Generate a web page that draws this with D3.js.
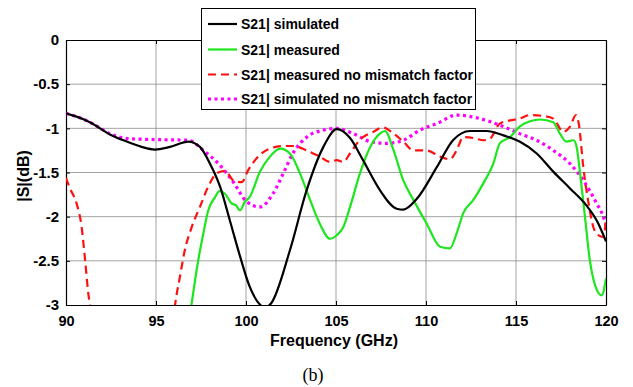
<!DOCTYPE html>
<html>
<head>
<meta charset="utf-8">
<script src="https://cdn.jsdelivr.net/npm/d3@7"></script>
<style>
  body { margin: 0; background: #fff; }
  svg text { font-family: "Liberation Sans", Arial, sans-serif; }
</style>
</head>
<body>
<svg id="chart" width="633" height="387"></svg>
<script>
// ---- data ----
const xTicks = [90, 95, 100, 105, 110, 115, 120];
const yTicks = [0, -0.5, -1, -1.5, -2, -2.5, -3];

const simFreq = [90, 91, 91.5, 92.44, 93.37, 94.2, 94.94, 95.78, 96.8, 97.44, 98, 98.56, 99.1, 99.67, 100.2, 100.8, 101.05, 101.4, 102.44, 103.37, 104.3, 105.04, 105.78, 106.5, 107.44, 108.37, 108.74, 109.48, 110.6, 111.5, 112.44, 113.37, 114.3, 115.2, 116.15, 117.07, 118, 118.9, 119.5, 120];
const simVal  = [-0.83, -0.9, -0.95, -1.07, -1.15, -1.21, -1.24, -1.21, -1.15, -1.21, -1.4, -1.66, -2.04, -2.45, -2.79, -3.0, -3.03, -2.98, -2.38, -1.7, -1.21, -1.01, -1.11, -1.36, -1.7, -1.91, -1.92, -1.8, -1.44, -1.135, -1.03, -1.03, -1.08, -1.15, -1.285, -1.49, -1.68, -1.87, -2.05, -2.28];

const measFreq = [96.9, 97.35, 97.63, 97.9, 98.28, 98.52, 98.83, 99.2, 99.44, 99.67, 99.94, 100.2, 100.78, 101.33, 101.9, 102.44, 103, 103.56, 104.1, 104.67, 105.04, 105.4, 105.78, 106.33, 106.9, 107.44, 107.72, 108.2, 108.74, 109.3, 110.04, 110.78, 111.33, 111.7, 112.07, 112.63, 113.19, 113.74, 114.1, 114.67, 115.2, 115.78, 116.33, 117.07, 117.44, 117.8, 118.2, 118.37, 118.56, 118.83, 119.1, 119.4, 119.76, 120];
const measVal  = [-3.1, -2.49, -2.19, -1.93, -1.78, -1.71, -1.74, -1.85, -1.87, -1.93, -1.83, -1.78, -1.49, -1.32, -1.23, -1.285, -1.51, -1.81, -2.08, -2.25, -2.21, -2.12, -1.89, -1.51, -1.21, -1.06, -1.03, -1.25, -1.59, -1.81, -2.08, -2.34, -2.36, -2.19, -1.96, -1.81, -1.62, -1.4, -1.17, -1.1, -0.98, -0.92, -0.9, -0.93, -1.06, -1.15, -1.135, -1.21, -1.51, -2.0, -2.49, -2.78, -2.89, -2.7];

const measNmFreq = [90, 90.22, 90.59, 90.87, 91.06, 91.24, 91.33, 91.5, 95.9, 96.06, 96.33, 96.6, 96.98, 97.44, 97.9, 98.37, 98.83, 99.3, 99.76, 100.13, 100.78, 101.33, 102.07, 102.6, 103.37, 104.1, 104.67, 105.04, 105.4, 105.78, 106.3, 107.07, 107.6, 108.2, 108.74, 109.3, 110.04, 110.78, 111.33, 111.7, 112.07, 112.63, 113.2, 113.56, 114.1, 114.67, 115.2, 115.78, 116.5, 117.07, 117.63, 118, 118.33, 118.5, 118.74, 119, 119.3, 119.57, 119.85, 120];
const measNmVal  = [-1.56, -1.68, -1.85, -2.12, -2.49, -2.87, -3.0, -3.3, -3.3, -3.0, -2.68, -2.38, -2.12, -1.89, -1.66, -1.51, -1.48, -1.59, -1.61, -1.47, -1.3, -1.23, -1.2, -1.2, -1.25, -1.32, -1.38, -1.36, -1.38, -1.285, -1.135, -1.04, -0.99, -1.06, -1.15, -1.25, -1.25, -1.32, -1.35, -1.25, -1.1, -1.11, -1.135, -1.115, -0.946, -0.91, -0.89, -0.85, -0.86, -0.89, -1.04, -0.98, -0.85, -0.965, -1.44, -1.81, -2.12, -2.21, -2.23, -2.04];

const simNmFreq = [90, 91, 91.5, 92.44, 93.37, 94.94, 96.8, 97.63, 98.56, 99.3, 100.04, 100.78, 101.5, 102.07, 102.6, 103.37, 104.3, 105.04, 105.96, 106.9, 107.8, 108.74, 109.67, 110.6, 111.7, 113, 114.3, 115.2, 116.15, 117.07, 118, 118.74, 119.48, 119.85, 120];
const simNmVal  = [-0.83, -0.9, -0.95, -1.06, -1.115, -1.127, -1.135, -1.25, -1.42, -1.61, -1.83, -1.89, -1.74, -1.51, -1.285, -1.1, -1.02, -1.0, -1.06, -1.15, -1.17, -1.135, -1.02, -0.946, -0.85, -0.89, -0.98, -1.06, -1.135, -1.25, -1.4, -1.59, -1.85, -2.0, -2.1];

const seriesNames = ["S21| simulated", "S21| measured", "S21| measured no mismatch factor", "S21| simulated no mismatch factor"];

// ---- layout ----
const svg = d3.select("#chart");
const plotL = 66, plotR = 606, plotT = 40, plotB = 305;

const x = d3.scaleLinear().domain([90, 120]).range([plotL, plotR]);
const y = d3.scaleLinear().domain([-3, 0]).range([plotB, plotT]);

// grid
const grid = svg.append("g");
grid.selectAll(".gx").data(xTicks.slice(1, -1)).enter().append("line")
    .attr("x1", d => x(d)).attr("x2", d => x(d))
    .attr("y1", plotT).attr("y2", plotB)
    .attr("stroke", "#8c8c8c").attr("stroke-width", 0.8);
grid.selectAll(".gy").data(yTicks.slice(1, -1)).enter().append("line")
    .attr("x1", plotL).attr("x2", plotR)
    .attr("y1", d => y(d)).attr("y2", d => y(d))
    .attr("stroke", "#8c8c8c").attr("stroke-width", 0.8);

// axes (ticks inward on all sides)
const xAxis = svg.append("g").attr("transform", `translate(0,${plotB})`)
    .call(d3.axisBottom(x).tickValues(xTicks).tickSizeInner(-4).tickSizeOuter(0).tickPadding(11));
const yAxis = svg.append("g").attr("transform", `translate(${plotL},0)`)
    .call(d3.axisLeft(y).tickValues(yTicks).tickSizeInner(-4).tickSizeOuter(0).tickPadding(7)
        .tickFormat(d => String(d)));
svg.append("g").attr("transform", `translate(0,${plotT})`)
    .call(d3.axisTop(x).tickValues(xTicks).tickSizeInner(-4).tickSizeOuter(0).tickFormat(""));
svg.append("g").attr("transform", `translate(${plotR},0)`)
    .call(d3.axisRight(y).tickValues(yTicks).tickSizeInner(-4).tickSizeOuter(0).tickFormat(""));

svg.selectAll(".domain").attr("stroke", "#000").attr("stroke-width", 1.2);
svg.selectAll(".tick line").attr("stroke", "#000");
xAxis.selectAll("text").attr("font-size", 14.5).attr("font-weight", "bold").attr("fill", "#000");
yAxis.selectAll("text").attr("font-size", 15).attr("font-weight", "bold").attr("fill", "#000");

// curves, clipped to the plot box
svg.append("clipPath").attr("id", "clip")
    .append("rect").attr("x", plotL).attr("y", plotT).attr("width", plotR - plotL).attr("height", plotB - plotT);

const line = d3.line()
    .x(d => x(d[0]))
    .y(d => y(d[1]))
    .curve(d3.curveMonotoneX);

const series = [
    { f: simFreq, v: simVal, color: "#000000", width: 2.2, dash: null },
    { f: measFreq, v: measVal, color: "#1ee61e", width: 2.2, dash: null },
    { f: measNmFreq, v: measNmVal, color: "#ff1010", width: 2.2, dash: "8,5" },
    { f: simNmFreq, v: simNmVal, color: "#ff00ff", width: 3.2, dash: "3,3.5" }
];

const plot = svg.append("g").attr("clip-path", "url(#clip)");
// draw magenta and red below so black/green sit on top like the reference
[3, 2, 1, 0].forEach(i => {
    const s = series[i];
    plot.append("path")
        .attr("d", line(d3.zip(s.f, s.v)))
        .attr("fill", "none")
        .attr("stroke", s.color)
        .attr("stroke-width", s.width)
        .attr("stroke-dasharray", s.dash);
});

// axis labels
svg.append("text")
    .attr("x", 334).attr("y", 346)
    .attr("text-anchor", "middle")
    .attr("font-size", 16).attr("font-weight", "bold")
    .text("Frequency (GHz)");
svg.append("text")
    .attr("transform", "translate(29,176) rotate(-90)")
    .attr("text-anchor", "middle")
    .attr("font-size", 16).attr("font-weight", "bold")
    .text("|S|(dB)");
svg.append("text")
    .attr("x", 313).attr("y", 381)
    .attr("text-anchor", "middle")
    .attr("font-size", 18)
    .style("font-family", "'Liberation Serif', 'Times New Roman', serif")
    .text("(b)");

// legend
const legend = svg.append("g");
legend.append("rect")
    .attr("x", 201.5).attr("y", 8.5).attr("width", 274).attr("height", 101)
    .attr("fill", "#fff").attr("stroke", "#000").attr("stroke-width", 1);
const rowY = [24, 49.5, 74.5, 99];
series.forEach((s, i) => {
    legend.append("line")
        .attr("x1", 208).attr("x2", 237)
        .attr("y1", rowY[i]).attr("y2", rowY[i])
        .attr("stroke", s.color).attr("stroke-width", s.width)
        .attr("stroke-dasharray", s.dash);
    legend.append("text")
        .attr("x", 241).attr("y", rowY[i] + 5)
        .attr("font-size", 14).attr("font-weight", "bold")
        .text(seriesNames[i]);
});
</script>
</body>
</html>
